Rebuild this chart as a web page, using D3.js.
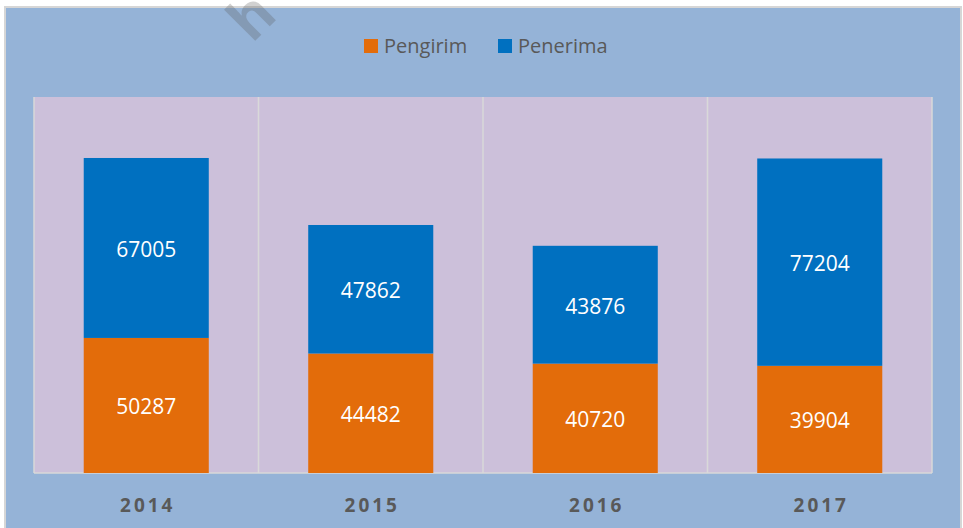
<!DOCTYPE html>
<html>
<head>
<meta charset="utf-8">
<script src="https://cdn.jsdelivr.net/npm/d3@7"></script>
<style>
  body { margin: 0; background: #fff; }
  svg { display: block; font-family: "Open Sans", "Noto Sans", sans-serif; }
</style>
</head>
<body>
<svg width="963" height="528"></svg>
<script>
// data
const years = ['2014', '2015', '2016', '2017'];
const pengirim = [50287, 44482, 40720, 39904];
const penerima = [67005, 47862, 43876, 77204];
const seriesNames = ['Pengirim', 'Penerima'];
const colors = ['#e36c0a', '#0070c0'];

const svg = d3.select('svg');

// chart background with thin gray frame
svg.append('rect')
    .attr('x', 5).attr('y', 7)
    .attr('width', 956).attr('height', 526)
    .attr('fill', '#95b3d7')
    .attr('stroke', '#d6d6d6')
    .attr('stroke-width', 2);

const plot = {left: 34, right: 932, top: 97, bottom: 473};

const x = d3.scaleBand()
    .domain(years)
    .range([plot.left, plot.right])
    .paddingInner(0)
    .paddingOuter(0);

const y = d3.scaleLinear()
    .domain([0, 140000])
    .range([plot.bottom, plot.top]);

// plot area
svg.append('rect')
    .attr('x', plot.left).attr('y', plot.top)
    .attr('width', plot.right - plot.left)
    .attr('height', plot.bottom - plot.top)
    .attr('fill', '#ccc0da');

// vertical grid lines at category edges
const edges = years.map(d => x(d)).concat([plot.right]);
svg.append('g').selectAll('line')
    .data(edges)
    .join('line')
    .attr('x1', d => d).attr('x2', d => d)
    .attr('y1', plot.top).attr('y2', plot.bottom)
    .attr('stroke', '#d9d9d9')
    .attr('stroke-width', 1.5);

// bottom axis line
svg.append('line')
    .attr('x1', plot.left).attr('x2', plot.right)
    .attr('y1', plot.bottom).attr('y2', plot.bottom)
    .attr('stroke', '#d9d9d9')
    .attr('stroke-width', 1.5);

// stack
const rows = years.map((yr, i) => ({year: yr, Pengirim: pengirim[i], Penerima: penerima[i]}));
const stacked = d3.stack().keys(seriesNames)(rows);

const barW = x.bandwidth() * 0.557;

const layers = svg.append('g').selectAll('g')
    .data(stacked)
    .join('g')
    .attr('fill', (d, i) => colors[i]);

layers.selectAll('rect')
    .data(d => d)
    .join('rect')
    .attr('x', d => x(d.data.year) + (x.bandwidth() - barW) / 2)
    .attr('y', d => y(d[1]))
    .attr('width', barW)
    .attr('height', d => y(d[0]) - y(d[1]));

layers.selectAll('text')
    .data(d => d)
    .join('text')
    .attr('x', d => x(d.data.year) + x.bandwidth() / 2)
    .attr('y', d => (y(d[0]) + y(d[1])) / 2)
    .attr('dy', '0.42em')
    .attr('text-anchor', 'middle')
    .attr('fill', '#fff')
    .attr('font-size', 21)
    .text(d => d[1] - d[0]);

// x axis labels
svg.append('g').selectAll('text')
    .data(years)
    .join('text')
    .attr('x', d => x(d) + x.bandwidth() / 2 + 1.5)
    .attr('y', 512)
    .attr('text-anchor', 'middle')
    .attr('fill', '#595959')
    .attr('font-size', 19)
    .attr('font-weight', 'bold')
    .attr('letter-spacing', '3px')
    .text(d => d);

// legend
const legendX = [364, 498];
const legend = svg.append('g').selectAll('g')
    .data(seriesNames)
    .join('g')
    .attr('transform', (d, i) => `translate(${legendX[i]},39)`);
legend.append('rect')
    .attr('width', 14).attr('height', 14)
    .attr('fill', (d, i) => colors[i]);
legend.append('text')
    .attr('x', 20).attr('y', 13.5)
    .attr('fill', '#595959')
    .attr('font-size', 20)
    .text(d => d);

// faint watermark at the top (cut by the picture edge, as in the source)
svg.append('text')
    .attr('transform', 'translate(252,44) rotate(-45)')
    .attr('font-size', 58)
    .attr('font-weight', 'bold')
    .attr('fill', 'rgba(90,90,90,0.28)')
    .text('h');
</script>
</body>
</html>
